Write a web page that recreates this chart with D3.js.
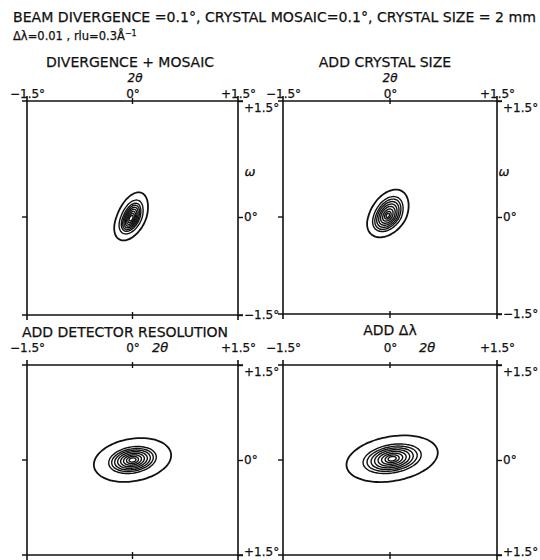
<!DOCTYPE html>
<html><head><meta charset="utf-8">
<script src="https://cdn.jsdelivr.net/npm/d3@7"></script>
<style>
body{margin:0;background:#fff}
text{font-family:"DejaVu Sans",sans-serif;fill:#111;stroke:#111;stroke-width:0.25px}
</style>
</head><body>
<svg id="c" width="540" height="560"></svg>
<script>
// ---------------- data ----------------
const titleLine1 = "BEAM DIVERGENCE =0.1°, CRYSTAL MOSAIC=0.1°, CRYSTAL SIZE = 2 mm";
const titleLine2a = "Δλ=0.01 , rlu=0.3Å";
const titleLine2sup = "−1";
const panelTitles = ["DIVERGENCE + MOSAIC", "ADD CRYSTAL SIZE", "ADD DETECTOR RESOLUTION", "ADD Δλ"];
const xAxisName = "2θ";
const yAxisName = "ω";
const xTickValues = [-1.5, 0, 1.5];
const xTickLabels = ["−1.5°", "0°", "+1.5°"];
const yTickValues = [1.5, 0, -1.5];
const yTickLabelsTop = ["+1.5°", "0°", "−1.5°"];
const yTickLabelsBottom = ["+1.5°", "0°", "+1.5°"];

// contour ellipses (degrees): semi-major, semi-minor; tilt of major axis (deg)
const p1Major = [0.364, 0.257, 0.214, 0.186, 0.157, 0.129, 0.100, 0.071, 0.043];
const p1Minor = [0.200, 0.143, 0.114, 0.097, 0.081, 0.066, 0.051, 0.037, 0.023];
const p1Tilt = 64, p1Center = [-0.02, -0.02];

const p2Major = [0.371, 0.271, 0.236, 0.200, 0.164, 0.129, 0.093, 0.057, 0.029];
const p2Minor = [0.243, 0.179, 0.150, 0.129, 0.107, 0.086, 0.061, 0.039, 0.020];
const p2Tilt = 55, p2Center = [-0.03, 0.02];

const p3Major = [0.557, 0.343, 0.300, 0.257, 0.214, 0.171, 0.129, 0.086, 0.050];
const p3Minor = [0.333, 0.206, 0.175, 0.151, 0.127, 0.103, 0.079, 0.056, 0.032];
const p3Tilt = 12, p3Center = [0.0, 0.0];

const p4Major = [0.650, 0.414, 0.357, 0.300, 0.250, 0.200, 0.150, 0.100, 0.057];
const p4Minor = [0.350, 0.222, 0.190, 0.163, 0.137, 0.111, 0.084, 0.059, 0.035];
const p4Tilt = 12, p4Center = [0.03, 0.02];

// ---------------- layout ----------------
const svg = d3.select("#c");
const ink = "#111";
const FONT = '"DejaVu Sans",sans-serif';

svg.append("text").attr("x", 13).attr("y", 22).attr("font-size", 14)
  .attr("textLength", 523).attr("lengthAdjust", "spacingAndGlyphs").text(titleLine1);
const t2 = svg.append("text").attr("x", 13).attr("y", 40).attr("font-size", 11.5);
t2.append("tspan").text(titleLine2a);
t2.append("tspan").attr("font-size", 8).attr("dy", -4).text(titleLine2sup);

const panels = [
  {x0: 27, x1: 238, y0: 101, y1: 315, yZero: 217, major: p1Major, minor: p1Minor, tilt: p1Tilt, c: p1Center,
   yLabels: yTickLabelsTop, title: panelTitles[0], tx: 130, ty: 67, top: true, xnameX: 135, wx: 12},
  {x0: 283, x1: 497, y0: 101, y1: 314, yZero: 217, major: p2Major, minor: p2Minor, tilt: p2Tilt, c: p2Center,
   yLabels: yTickLabelsTop, title: panelTitles[1], tx: 385, ty: 67, top: true, xnameX: 390, wx: 7},
  {x0: 27, x1: 238, y0: 365, y1: 555, yZero: 460, major: p3Major, minor: p3Minor, tilt: p3Tilt, c: p3Center,
   yLabels: yTickLabelsBottom, title: panelTitles[2], tx: 125, ty: 337, top: false, xnameX: 160},
  {x0: 283, x1: 497, y0: 365, y1: 555, yZero: 460, major: p4Major, minor: p4Minor, tilt: p4Tilt, c: p4Center,
   yLabels: yTickLabelsBottom, title: panelTitles[3], tx: 390, ty: 335, top: false, xnameX: 427}
];

panels.forEach((p, i) => {
  const x = d3.scaleLinear().domain([-1.5, 1.5]).range([p.x0, p.x1]);
  const y = d3.scaleLinear().domain([-1.5, 0, 1.5]).range([p.y1, p.yZero, p.y0]);
  const g = svg.append("g");

  // frame lines extended past corners
  const ext = 5;
  const frame = [
    [[p.x0 - ext, p.y0], [p.x1 + ext, p.y0]],
    [[p.x0 - ext, p.y1], [p.x1 + ext, p.y1]],
    [[p.x0, p.y0 - ext], [p.x0, p.y1 + ext]],
    [[p.x1, p.y0 - ext], [p.x1, p.y1 + ext]]
  ];
  g.selectAll("line.f").data(frame).join("line")
    .attr("x1", d => d[0][0]).attr("y1", d => d[0][1])
    .attr("x2", d => d[1][0]).attr("y2", d => d[1][1])
    .attr("stroke", ink).attr("stroke-width", 1.6);

  // top axis labels
  const labelY = p.top ? p.y0 - 3 : p.y0 - 13;
  const ax = d3.axisTop(x).tickValues(xTickValues).tickSize(0).tickFormat((d, k) => xTickLabels[k]);
  const axg = g.append("g").attr("transform", `translate(0,${labelY})`).call(ax);
  axg.select(".domain").remove();
  axg.selectAll("text").attr("font-size", 12).attr("font-family", FONT).attr("fill", ink).attr("dy", 0).attr("y", 0);
  // center ticks
  g.append("line").attr("x1", x(0)).attr("x2", x(0)).attr("y1", p.y0 - 3).attr("y2", p.y0 + 3)
    .attr("stroke", ink).attr("stroke-width", 1.4);
  g.append("line").attr("x1", x(0)).attr("x2", x(0)).attr("y1", p.y1 - 3).attr("y2", p.y1 + 4)
    .attr("stroke", ink).attr("stroke-width", 1.4);

  // right axis
  const ay = d3.axisRight(y).tickValues(yTickValues).tickSize(5).tickPadding(1).tickFormat((d, k) => p.yLabels[k]);
  const ayg = g.append("g").attr("transform", `translate(${p.x1},0)`).call(ay);
  ayg.select(".domain").remove();
  ayg.selectAll("line").attr("stroke", ink).attr("stroke-width", 1.4);
  ayg.selectAll("text").attr("font-size", 12).attr("font-family", FONT).attr("fill", ink)
    .attr("dy", (d, k) => k === 0 ? "0.85em" : (k === 2 && !p.top ? "0em" : "0.32em"));
  // left zero tick
  g.append("line").attr("x1", p.x0 - 5).attr("x2", p.x0).attr("y1", y(0)).attr("y2", y(0))
    .attr("stroke", ink).attr("stroke-width", 1.4);

  // titles
  g.append("text").attr("x", p.tx).attr("y", p.ty).attr("text-anchor", "middle").attr("font-size", 14).text(p.title);
  if (p.top) {
    g.append("text").attr("x", p.xnameX).attr("y", 82).attr("text-anchor", "middle").attr("font-size", 12)
      .attr("font-style", "italic").text(xAxisName);
    g.append("text").attr("x", p.x1 + p.wx).attr("y", 176).attr("text-anchor", "middle").attr("font-size", 13)
      .attr("font-style", "italic").text(yAxisName);
  } else {
    g.append("text").attr("x", p.xnameX).attr("y", labelY).attr("text-anchor", "middle").attr("font-size", 13)
      .attr("font-style", "italic").text(xAxisName);
  }

  // contours
  const th = p.tilt * Math.PI / 180;
  const phis = d3.range(0, 2 * Math.PI, Math.PI / 36);
  const line = d3.line().x(d => x(d[0])).y(d => y(d[1])).curve(d3.curveCardinalClosed);
  p.major.forEach((a, k) => {
    const b = p.minor[k];
    const pts = phis.map(f => {
      const u = a * Math.cos(f), v = b * Math.sin(f);
      return [p.c[0] + u * Math.cos(th) - v * Math.sin(th), p.c[1] + u * Math.sin(th) + v * Math.cos(th)];
    });
    g.append("path").attr("d", line(pts)).attr("fill", "none").attr("stroke", ink)
      .attr("stroke-width", k === 0 ? 1.8 : 1.4);
  });
});
</script>
</body></html>
